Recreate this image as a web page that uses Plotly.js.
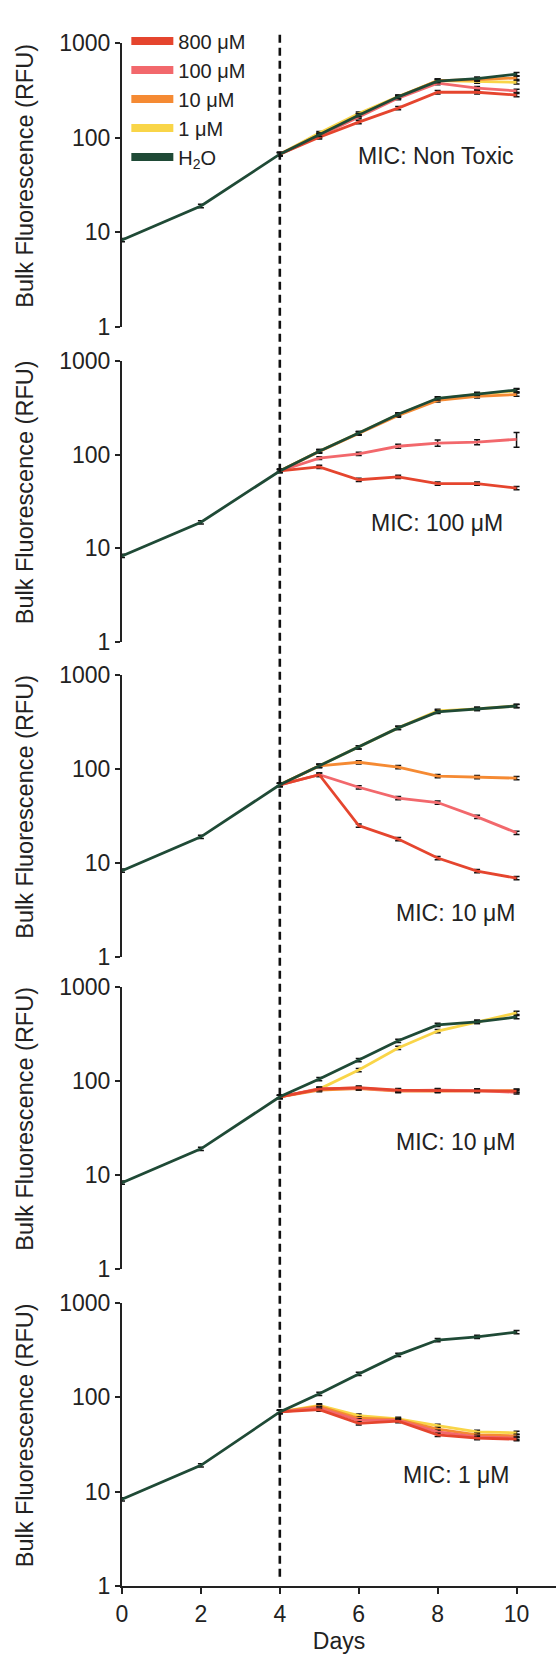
<!DOCTYPE html>
<html>
<head>
<meta charset="utf-8">
<script src="https://cdn.plot.ly/plotly-3.0.1.min.js"></script>
<style>html,body{margin:0;padding:0;background:#fff;}#chart{width:556px;height:1654px;}</style>
</head>
<body>
<div id="chart"></div>
<script>
// ---- data ----
const days = [0, 2, 4, 5, 6, 7, 8, 9, 10];
const treatDays = [4, 5, 6, 7, 8, 9, 10];
const seriesNames = ['800 μM', '100 μM', '10 μM', '1 μM', 'H<sub>2</sub>O'];
const panelNames = ['Leucine', 'Proline', 'Lysine', 'Valine', 'Isoleucine'];
const micLabels = ['MIC: Non Toxic', 'MIC: 100 μM', 'MIC: 10 μM', 'MIC: 10 μM', 'MIC: 1 μM'];
const yTickVals = [1, 10, 100, 1000];
const yTickText = ['1', '10', '100', '1000'];
const xTickVals = [0, 2, 4, 6, 8, 10];

// Leucine
const leu800 = [67, 101, 146, 205, 302, 302, 282];
const leu100 = [67, 104, 165, 262, 377, 334, 312];
const leu10  = [67, 108, 172, 268, 400, 410, 428];
const leu1   = [67, 112, 180, 272, 400, 392, 385];
const leuH2O = [8.3, 19, 67, 107, 173, 270, 396, 420, 470];
// Proline
const pro800 = [67, 74, 54, 58, 49, 49, 44];
const pro100 = [67, 92, 102, 123, 133, 136, 146];
const pro10  = [67, 108, 168, 262, 380, 420, 438];
const pro1   = [67, 109, 170, 268, 395, 440, 480];
const proH2O = [8.3, 19, 67, 109, 170, 270, 400, 445, 490];
const pro100Err = [0, 3, 4, 6, 10, 8, 26];
// Lysine
const lys800 = [68, 87, 25, 18, 11.3, 8.2, 6.9];
const lys100 = [68, 87, 64, 49, 44, 31, 21];
const lys10  = [68, 108, 118, 105, 84, 82, 80];
const lys1   = [68, 108, 170, 274, 415, 436, 470];
const lysH2O = [8.3, 19, 68, 108, 170, 274, 405, 436, 468];
// Valine
const val800 = [68, 82, 85, 80, 79, 78, 78];
const val100 = [68, 83, 84, 79, 80, 79, 76];
const val10  = [68, 80, 83, 78, 78, 79, 79];
const val1   = [68, 82, 131, 225, 340, 425, 530];
const valH2O = [8.3, 19, 68, 105, 167, 268, 395, 425, 480];
// Isoleucine
const ile800 = [70, 74, 53, 56, 40, 37, 36];
const ile100 = [70, 77, 57, 57, 43, 38, 37];
const ile10  = [70, 80, 60, 58, 46, 40, 39];
const ile1   = [70, 82, 64, 59, 50, 43, 42];
const ileH2O = [8.3, 19, 70, 109, 177, 282, 405, 437, 492];

// ---- styling / layout config ----
const colors = ['#e5452e', '#f2686c', '#f58a33', '#f9d548', '#1f4a36'];
const FONT = 'Liberation Sans, Arial, Helvetica, sans-serif';
const TXT = '#222';
const panels = [
  {t: [leu800, leu100, leu10, leu1], h: leuH2O},
  {t: [pro800, pro100, pro10, pro1], h: proH2O, err: {1: pro100Err}},
  {t: [lys800, lys100, lys10, lys1], h: lysH2O},
  {t: [val800, val100, val10, val1], h: valH2O},
  {t: [ile800, ile100, ile10, ile1], h: ileH2O}
];
const domains = [[0.8159, 1.0], [0.6118, 0.7939], [0.4076, 0.5904], [0.2054, 0.3882], [0.0, 0.1834]];
const titlePos = [[4.39, 3.21], [4.64, 3.27], [4.77, 3.245], [4.77, 3.255], [4.2, 3.22]];
const micPos = [[9.99, 1.81], [9.71, 1.27], [10.01, 0.47], [10.01, 1.35], [9.89, 1.18]];

const traces = [];
const drawOrder = [3, 2, 1, 0]; // 1 µM first, 800 µM last (under H2O)
panels.forEach((p, i) => {
  const yax = 'y' + (i === 0 ? '' : (i + 1));
  drawOrder.forEach(k => {
    const ey = (p.err && p.err[k])
      ? {type: 'data', array: p.err[k], visible: true, color: '#111', thickness: 1.5, width: 3}
      : {type: 'percent', value: 4, visible: true, color: '#111', thickness: 1.5, width: 3};
    traces.push({
      x: treatDays, y: p.t[k], xaxis: 'x', yaxis: yax, type: 'scatter', mode: 'lines',
      line: {color: colors[k], width: 2.8}, error_y: ey, showlegend: false, name: seriesNames[k], hoverinfo: 'skip'
    });
  });
  traces.push({
    x: days, y: p.h, xaxis: 'x', yaxis: yax, type: 'scatter', mode: 'lines',
    line: {color: colors[4], width: 2.8},
    error_y: {type: 'percent', value: 4, visible: true, color: '#111', thickness: 1.5, width: 3},
    showlegend: false, name: seriesNames[4], hoverinfo: 'skip'
  });
});
// legend entries (thick swatches)
seriesNames.forEach((n, k) => {
  traces.push({
    x: [null], y: [null], xaxis: 'x', yaxis: 'y', type: 'scatter', mode: 'lines',
    line: {color: colors[k], width: 8}, name: n, showlegend: true, legendrank: k + 1
  });
});

const layout = {
  width: 556, height: 1654,
  margin: {l: 122, r: 0, t: 43, b: 68},
  paper_bgcolor: '#fff', plot_bgcolor: 'rgba(0,0,0,0)',
  font: {family: FONT, size: 23, color: TXT},
  showlegend: true,
  legend: {
    x: 0.01, y: 1.014, xanchor: 'left', yanchor: 'top',
    bgcolor: 'rgba(0,0,0,0)', font: {family: FONT, size: 20, color: TXT},
    tracegroupgap: 0, itemwidth: 42, traceorder: 'normal'
  },
  xaxis: {
    domain: [0, 1], range: [0, 11], anchor: 'y5',
    tickvals: xTickVals, ticktext: xTickVals.map(String),
    showline: true, linecolor: TXT, linewidth: 2,
    ticks: 'outside', ticklen: 6, tickwidth: 2, tickcolor: TXT,
    showgrid: false, zeroline: false,
    tickfont: {family: FONT, size: 23, color: TXT},
    title: {text: 'Days', font: {family: FONT, size: 23, color: TXT}, standoff: 12}
  },
  shapes: [{
    type: 'line', xref: 'x', yref: 'paper', x0: 4, x1: 4, y0: 0.006, y1: 1.0065,
    line: {color: '#111', width: 2.6, dash: '8px,5px'}
  }],
  annotations: []
};

panels.forEach((p, i) => {
  const key = 'yaxis' + (i === 0 ? '' : (i + 1));
  const yref = 'y' + (i === 0 ? '' : (i + 1));
  layout[key] = {
    domain: domains[i], type: 'log', range: [0, 3], anchor: 'x',
    tickvals: yTickVals, ticktext: yTickText,
    showline: true, linecolor: TXT, linewidth: 2,
    ticks: 'outside', ticklen: 5, tickwidth: 2, tickcolor: TXT,
    showgrid: false, zeroline: false,
    tickfont: {family: FONT, size: 23, color: TXT}
  };
  layout.annotations.push({
    text: panelNames[i], xref: 'x', yref: yref, x: titlePos[i][0], y: titlePos[i][1],
    xanchor: 'left', yanchor: 'middle', showarrow: false,
    font: {family: FONT, size: 22, color: TXT}
  });
  layout.annotations.push({
    text: micLabels[i], xref: 'x', yref: yref, x: micPos[i][0], y: micPos[i][1],
    xanchor: 'right', yanchor: 'middle', showarrow: false,
    font: {family: FONT, size: 23, color: TXT}
  });
  const mid = (domains[i][0] + domains[i][1]) / 2 + 0.006;
  layout.annotations.push({
    text: 'Bulk Fluorescence (RFU)', xref: 'paper', yref: 'paper',
    x: -0.2235, y: mid, xanchor: 'center', yanchor: 'middle', textangle: -90, showarrow: false,
    font: {family: FONT, size: 23.5, color: TXT}
  });
});

Plotly.newPlot('chart', traces, layout, {displayModeBar: false, staticPlot: true});
</script>
</body>
</html>
